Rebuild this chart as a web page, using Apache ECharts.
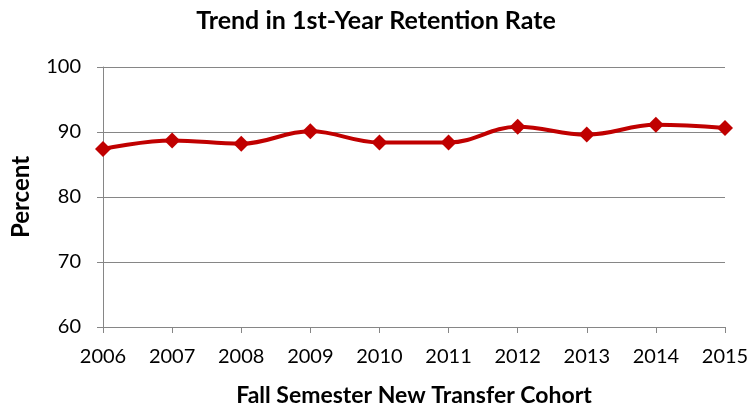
<!DOCTYPE html>
<html>
<head>
<meta charset="utf-8">
<script src="https://cdn.jsdelivr.net/npm/echarts@6/dist/echarts.min.js"></script>
<style>
  html, body { margin: 0; padding: 0; background: #fff; }
  #chart { width: 752px; height: 407px; }
</style>
</head>
<body>
<div id="chart"></div>
<script>
const years = ['2006', '2007', '2008', '2009', '2010', '2011', '2012', '2013', '2014', '2015']
const retention = [87.4, 88.7, 88.2, 90.1, 88.4, 88.4, 90.8, 89.6, 91.1, 90.6]
const yTicks = { min: 60, max: 100, interval: 10 }

const font = 'Lato, "Open Sans", sans-serif'
const chart = echarts.init(document.getElementById('chart'))

chart.setOption({
    animation: false,
    title: {
        text: 'Trend in 1st-Year Retention Rate',
        left: 'center',
        top: 3,
        textStyle: { fontFamily: font, fontSize: 25, fontWeight: 'bold', color: '#000' }
    },
    grid: { left: 103, right: 27, top: 67, bottom: 80, outerBoundsMode: 'none' },
    xAxis: {
        type: 'category',
        data: years,
        boundaryGap: false,
        name: 'Fall Semester New Transfer Cohort',
        nameLocation: 'middle',
        nameGap: 57,
        nameTextStyle: { fontFamily: font, fontSize: 23, fontWeight: 'bold', color: '#000' },
        axisLine: { lineStyle: { color: '#868686', width: 1 } },
        axisTick: { show: true, length: 6, lineStyle: { color: '#868686' } },
        axisLabel: { fontFamily: font, fontSize: 20, color: '#000', margin: 20 },
        splitLine: { show: false }
    },
    yAxis: {
        type: 'value',
        min: yTicks.min,
        max: yTicks.max,
        interval: yTicks.interval,
        name: 'Percent',
        nameLocation: 'middle',
        nameGap: 70,
        nameRotate: 90,
        nameTextStyle: { fontFamily: font, fontSize: 24, fontWeight: 'bold', color: '#000' },
        axisLine: { show: true, lineStyle: { color: '#868686', width: 1 } },
        axisTick: { show: true, length: 6, lineStyle: { color: '#868686' } },
        axisLabel: { fontFamily: font, fontSize: 20, color: '#000', margin: 22 },
        splitLine: { show: true, lineStyle: { color: '#868686', width: 1 } }
    },
    series: [{
        type: 'line',
        data: retention,
        smooth: 0.4,
        symbol: 'diamond',
        symbolSize: 16,
        lineStyle: { color: '#C00000', width: 4 },
        itemStyle: { color: '#C00000' }
    }]
})
</script>
</body>
</html>
